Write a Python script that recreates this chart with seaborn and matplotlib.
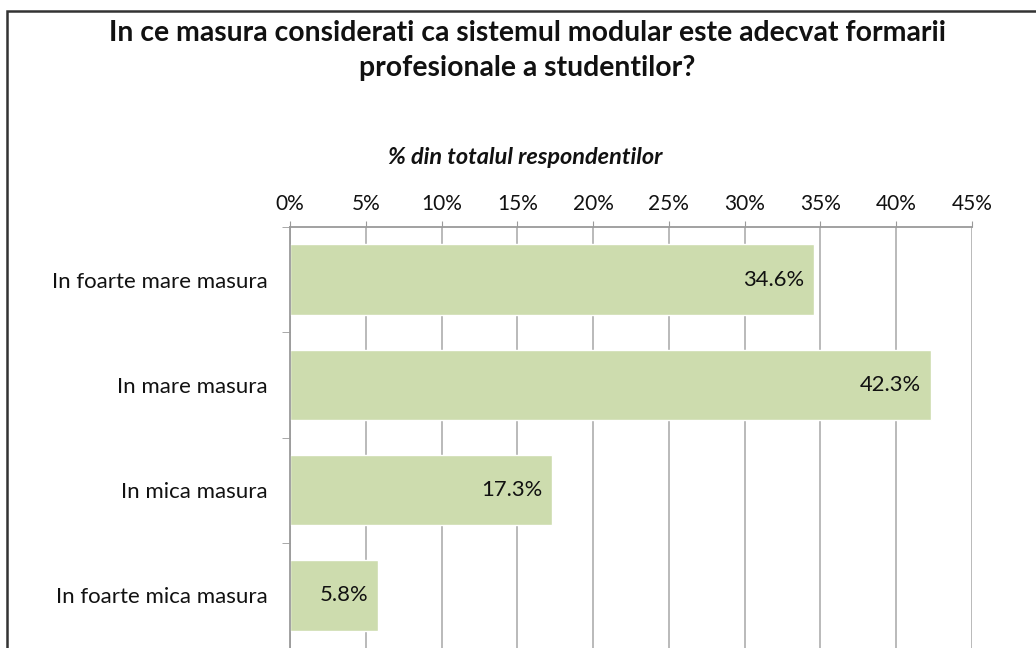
import pandas as pd
import seaborn as sns
import matplotlib.pyplot as plt
from matplotlib.patches import Rectangle
from matplotlib.ticker import MultipleLocator, FuncFormatter

# date
categorii = ['In foarte mare masura', 'In mare masura', 'In mica masura', 'In foarte mica masura']
procente = [34.6, 42.3, 17.3, 5.8]
etichete = ['34.6%', '42.3%', '17.3%', '5.8%']

df = pd.DataFrame({'categorie': categorii, 'procent': procente})

sns.set_style('white')
plt.rcParams['font.family'] = ['Lato', 'DejaVu Sans']

fig = plt.figure(figsize=(10.36, 6.48), dpi=100)
ax = fig.add_axes([290 / 1036, 0.0, (972 - 290) / 1036, (648 - 227) / 648])

sns.barplot(data=df, x='procent', y='categorie', color='#CDDCAE', width=0.67,
            saturation=1, ax=ax)

# etichete in interiorul barelor
for i, (val, lab) in enumerate(zip(procente, etichete)):
    ax.annotate(lab, xy=(val, i), xytext=(-7, 0), textcoords='offset points',
                ha='right', va='center', fontsize=15.8, color='#111111')

ax.set_xlim(0, 45)
ax.set_ylim(3.5, -0.5)
ax.xaxis.set_major_locator(MultipleLocator(5))
ax.xaxis.set_major_formatter(FuncFormatter(lambda v, p: f'{v:.0f}%'))
ax.xaxis.tick_top()
ax.tick_params(axis='x', top=True, length=4, color='#9A9A9A', labelsize=15,
               pad=5, labelcolor='#111111')
ax.set_yticks(range(len(categorii)))
ax.set_yticks([-0.5, 0.5, 1.5, 2.5, 3.5], minor=True)
ax.tick_params(axis='y', which='major', length=0, labelsize=16, pad=16,
               labelcolor='#111111')
ax.tick_params(axis='y', which='minor', left=True, length=6, color='#9A9A9A')
ax.grid(axis='x', color='#B4B4B4', linewidth=1.3)
ax.set_axisbelow(True)
ax.set_xlabel('')
ax.set_ylabel('')

for side in ['right', 'bottom']:
    ax.spines[side].set_visible(False)
for side in ['top', 'left']:
    ax.spines[side].set_color('#9A9A9A')
    ax.spines[side].set_linewidth(1.3)

fig.text(0.509, 0.922, 'In ce masura considerati ca sistemul modular este adecvat formarii\nprofesionale a studentilor?',
         ha='center', va='center', fontsize=20.4, fontweight='bold',
         linespacing=1.45, color='#111111')
fig.text(0.507, 0.757, '% din totalul respondentilor', ha='center', va='center',
         fontsize=16.9, fontweight='bold', style='italic', color='#111111')

fig.patches.append(Rectangle((7 / 1036, -0.1), 1.2, (648 - 11) / 648 + 0.1,
                             transform=fig.transFigure, fill=False,
                             edgecolor='#333333', linewidth=1.8))

fig.savefig('out.png', dpi=100)
